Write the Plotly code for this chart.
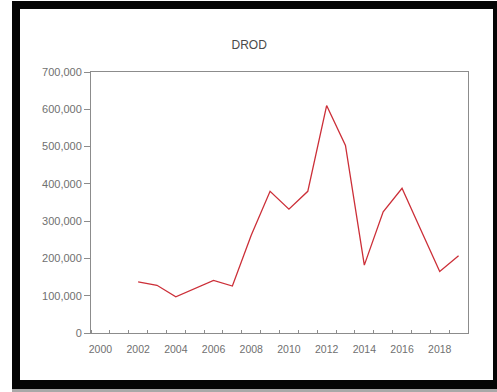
import plotly.graph_objects as go

# Annual DROD series
years = list(range(2002, 2020))
drod = [137000, 128000, 97000, 118000, 141000, 126000, 262000, 380000, 332000,
        380000, 610000, 503000, 182000, 325000, 388000, 276000, 165000, 207000]

y_ticks = [0, 100000, 200000, 300000, 400000, 500000, 600000, 700000]
x_labels = list(range(2000, 2020, 2))
x_bounds = [y + 0.5 for y in range(1999, 2020)]

W, H = 497, 392
L, R, T, B = 91, 29, 72, 59
pw, ph = W - L - R, H - T - B


def px(x):
    return (x - L) / pw


def py(y):
    return (H - B - y) / ph


fig = go.Figure()
fig.add_trace(go.Scatter(x=years, y=drod, mode="lines",
                         line=dict(color="#cc2f38", width=1.3),
                         showlegend=False, hoverinfo="skip"))

frame_shapes = [
    # drop shadow under the frame
    dict(type="rect", xref="paper", yref="paper", layer="below",
         x0=px(12), x1=px(497), y0=py(392), y1=py(388),
         fillcolor="#a8a8a8", line=dict(width=0)),
    # black frame
    dict(type="rect", xref="paper", yref="paper", layer="below",
         x0=px(12), x1=px(497), y0=py(389), y1=py(1),
         fillcolor="#050505", line=dict(width=0)),
    # white panel
    dict(type="rect", xref="paper", yref="paper", layer="below",
         x0=px(20), x1=px(493), y0=py(380), y1=py(9),
         fillcolor="white", line=dict(width=0)),
]

x_font = dict(family="Liberation Sans, Arial, sans-serif", size=10.5, color="#707070")
y_font = dict(family="Liberation Sans, Arial, sans-serif", size=11, color="#707070")

fig.update_layout(
    width=W, height=H,
    margin=dict(l=L, r=R, t=T, b=B),
    paper_bgcolor="white",
    plot_bgcolor="white",
    shapes=frame_shapes,
    title=dict(text="DROD", x=px(280), xanchor="center", y=1 - 45 / H, yanchor="middle",
               font=dict(family="Liberation Sans, Arial, sans-serif", size=12, color="#4a4a4a")),
    xaxis=dict(range=[1999.5, 2019.5], tickvals=x_labels, ticktext=[str(v) for v in x_labels],
               ticks="", showgrid=False, zeroline=False,
               showline=True, linecolor="#8c8c8c", linewidth=1, mirror=True,
               tickfont=x_font, ticklabelstandoff=6,
               minor=dict(tickvals=x_bounds, ticks="inside", ticklen=3,
                          tickcolor="#8c8c8c", showgrid=False)),
    xaxis2=dict(range=[1999.5, 2019.5], overlaying="x", anchor="y", side="bottom",
                tickvals=x_bounds, ticks="outside", ticklen=3, tickcolor="#8c8c8c",
                showticklabels=False, showgrid=False, zeroline=False, showline=False),
    yaxis=dict(range=[0, 700000], tickvals=y_ticks,
               ticktext=[f"{v:,}" for v in y_ticks],
               ticks="outside", ticklen=6, tickcolor="#8c8c8c",
               showgrid=False, zeroline=False,
               showline=True, linecolor="#8c8c8c", linewidth=1, mirror=True,
               tickfont=y_font),
)

fig.write_html("out.html")
